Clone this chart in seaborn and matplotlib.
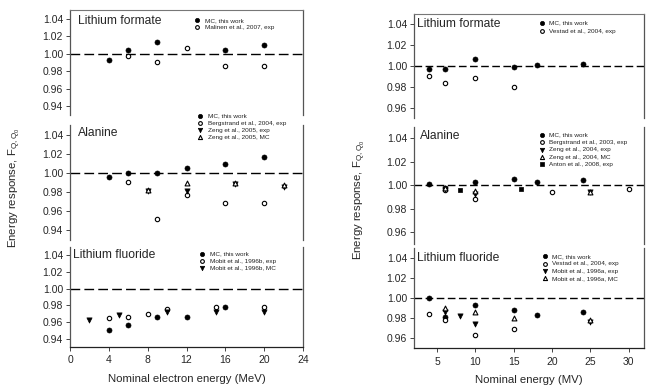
import matplotlib
matplotlib.use("Agg")
import matplotlib.pyplot as plt
import seaborn as sns
import numpy as np

# ---- left chart: electron beams (MeV) ----
e_lf_mc = [4, 6, 9, 16, 20]
lf_mc = [0.993, 1.004, 1.014, 1.004, 1.010]
e_lf_mal = [6, 9, 12, 16, 20]
lf_mal = [0.998, 0.9905, 1.0065, 0.9855, 0.986]

e_al_mc = [4, 6, 9, 12, 16, 20]
al_mc = [0.9956, 0.9995, 0.9995, 1.0048, 1.0092, 1.0168]
e_al_berg = [6, 9, 12, 16, 20]
al_berg = [0.991, 0.952, 0.9765, 0.9685, 0.9685]
e_al_zeng = [8, 12, 17, 22]
al_zeng_exp = [0.981, 0.981, 0.988, 0.985]
al_zeng_mc = [0.9825, 0.990, 0.989, 0.987]

e_lif_mc = [4, 6, 9, 12, 16]
lif_mc = [0.950, 0.956, 0.9655, 0.966, 0.9785]
e_lif_mobit_exp = [4, 6, 8, 10, 15, 20]
lif_mobit_exp = [0.9645, 0.9655, 0.9695, 0.9755, 0.978, 0.978]
e_lif_mobit_mc = [2, 5, 10, 15, 20]
lif_mobit_mc = [0.962, 0.9685, 0.9715, 0.9725, 0.972]

# ---- right chart: photon beams (MV) ----
p_lf_mc = [4, 6, 10, 15, 18, 24]
plf_mc = [0.9975, 0.997, 1.0065, 0.999, 1.0008, 1.002]
p_lf_ves = [4, 6, 10, 15]
plf_ves = [0.990, 0.9835, 0.988, 0.9795]

p_al_mc = [4, 6, 10, 15, 18, 24]
pal_mc = [1.001, 0.998, 1.003, 1.0055, 1.003, 1.0045]
p_al_berg = [6, 10, 20, 30]
pal_berg = [0.996, 0.988, 0.9945, 0.9965]
p_al_zeng = [6, 10, 25]
pal_zeng_exp = [0.997, 0.993, 0.9945]
pal_zeng_mc = [0.998, 0.9955, 0.9945]
p_al_anton = [8, 16]
pal_anton = [0.996, 0.997]

p_lif_mc = [4, 6, 10, 15, 18, 24]
plif_mc = [1.0003, 0.9815, 0.993, 0.988, 0.983, 0.986]
p_lif_ves = [4, 6, 10, 15]
plif_ves = [0.984, 0.978, 0.9635, 0.9695]
p_lif_mobit_exp = [6, 8, 10, 25]
plif_mobit_exp = [0.986, 0.9825, 0.9748, 0.9765]
p_lif_mobit_mc = [6, 10, 15, 25]
plif_mobit_mc = [0.990, 0.9865, 0.980, 0.978]

sns.set_style("ticks")
plt.rcParams['font.family'] = ['Liberation Sans', 'DejaVu Sans']
plt.rcParams['mathtext.default'] = 'regular'

W, H = 646, 385
fig = plt.figure(figsize=(W / 100, H / 100), dpi=100)


def add_ax(x0, x1, y0, y1):
    return fig.add_axes([x0 / W, 1 - y1 / H, (x1 - x0) / W, (y1 - y0) / H])


STY = {
    'mc': dict(marker='o', color='black', edgecolor='black', s=13, linewidth=0.5),
    'open': dict(marker='o', color='white', edgecolor='black', s=10, linewidth=0.8),
    'down': dict(marker='v', color='black', edgecolor='black', s=14, linewidth=0.5),
    'up': dict(marker='^', color='white', edgecolor='black', s=12, linewidth=0.8),
    'sq': dict(marker='s', color='black', edgecolor='black', s=12, linewidth=0.5),
}


def panel(ax, series, title, tpos, lpos, ylim, yticks, dash, top=False, bottom=False, lspace=0.25):
    for x, y, sty, lab in series:
        sns.scatterplot(x=x, y=y, ax=ax, label=lab, zorder=3, **STY[sty])
    ax.axhline(1.0, color='black', lw=1.0, ls=(0, dash), zorder=1)
    ax.set_ylim(*ylim)
    ax.set_yticks(yticks)
    ax.set_yticklabels([f"{v:.2f}" for v in yticks])
    ax.tick_params(axis='y', labelsize=7.5, length=3, width=0.6, pad=2)
    for s in ['left', 'right']:
        ax.spines[s].set_color('#555555')
        ax.spines[s].set_linewidth(0.9)
    ax.spines['top'].set_visible(top)
    ax.spines['top'].set_color('#777777')
    ax.spines['bottom'].set_visible(bottom)
    ax.spines['bottom'].set_color('#222222')
    ax.spines['bottom'].set_linewidth(0.9)
    if not bottom:
        ax.set_xticks([])
    ax.set_xlabel('')
    ax.text(tpos[0], tpos[1], title, transform=ax.transAxes, fontsize=8.7,
            ha='left', va='center')
    ax.legend(loc='upper left', bbox_to_anchor=lpos, frameon=False, fontsize=4.6,
              handletextpad=0.7, labelspacing=lspace, borderaxespad=0, borderpad=0,
              handlelength=1.0, markerscale=0.85, labelcolor='#222222')


# left stack
lx0, lx1 = 70, 303
a1 = add_ax(lx0, lx1, 10, 115)
a2 = add_ax(lx0, lx1, 125, 240)
a3 = add_ax(lx0, lx1, 247, 347)
lyt = [0.94, 0.96, 0.98, 1.00, 1.02, 1.04]
ldash = (7, 3)
panel(a1, [(e_lf_mc, lf_mc, 'mc', 'MC, this work'),
           (e_lf_mal, lf_mal, 'open', 'Malinen et al., 2007, exp')],
      'Lithium formate', (0.033, 0.898), (0.532, 0.93), (0.93, 1.05), lyt, ldash, top=True)
panel(a2, [(e_al_mc, al_mc, 'mc', 'MC, this work'),
           (e_al_berg, al_berg, 'open', 'Bergstrand et al., 2004, exp'),
           (e_al_zeng, al_zeng_exp, 'down', 'Zeng et al., 2005, exp'),
           (e_al_zeng, al_zeng_mc, 'up', 'Zeng et al., 2005, MC')],
      'Alanine', (0.033, 0.928), (0.545, 1.104), (0.93, 1.05), lyt, ldash)
panel(a3, [(e_lif_mc, lif_mc, 'mc', 'MC, this work'),
           (e_lif_mobit_exp, lif_mobit_exp, 'open', 'Mobit et al., 1996b, exp'),
           (e_lif_mobit_mc, lif_mobit_mc, 'down', 'Mobit et al., 1996b, MC')],
      'Lithium fluoride', (0.014, 0.92), (0.554, 0.96), (0.93, 1.05), lyt, ldash, bottom=True)
for a in (a1, a2, a3):
    a.set_xlim(0, 24)
a3.set_xticks(np.arange(0, 25, 4))
a3.tick_params(axis='x', labelsize=7.5, length=3, width=0.6, pad=3)
a3.set_xlabel('Nominal electron energy (MeV)', fontsize=8.2, labelpad=6)

# right stack
rx0, rx1 = 414, 644
b1 = add_ax(rx0, rx1, 14, 118)
b2 = add_ax(rx0, rx1, 126.6, 244)
b3 = add_ax(rx0, rx1, 248.3, 348.3)
ryt = [0.96, 0.98, 1.00, 1.02, 1.04]
rdash = (5.5, 2.5)
panel(b1, [(p_lf_mc, plf_mc, 'mc', 'MC, this work'),
           (p_lf_ves, plf_ves, 'open', 'Vestad et al., 2004, exp')],
      'Lithium formate', (0.014, 0.90), (0.541, 0.942), (0.95, 1.05), ryt, rdash, top=True, lspace=0.45)
panel(b2, [(p_al_mc, pal_mc, 'mc', 'MC, this work'),
           (p_al_berg, pal_berg, 'open', 'Bergstrand et al., 2003, exp'),
           (p_al_zeng, pal_zeng_exp, 'down', 'Zeng et al., 2004, exp'),
           (p_al_zeng, pal_zeng_mc, 'up', 'Zeng et al., 2004, MC'),
           (p_al_anton, pal_anton, 'sq', 'Anton et al., 2008, exp')],
      'Alanine', (0.026, 0.92), (0.541, 0.954), (0.95, 1.05), ryt, rdash, lspace=0.3)
panel(b3, [(p_lif_mc, plif_mc, 'mc', 'MC, this work'),
           (p_lif_ves, plif_ves, 'open', 'Vestad et al., 2004, exp'),
           (p_lif_mobit_exp, plif_mobit_exp, 'down', 'Mobit et al., 1996a, exp'),
           (p_lif_mobit_mc, plif_mobit_mc, 'up', 'Mobit et al., 1996a, MC')],
      'Lithium fluoride', (0.014, 0.906), (0.554, 0.948), (0.95, 1.05), ryt, rdash, bottom=True, lspace=0.3)
for b in (b1, b2, b3):
    b.set_xlim(2, 32)
b3.set_xticks([5, 10, 15, 20, 25, 30])
b3.tick_params(axis='x', labelsize=7.5, length=3, width=0.6, pad=3)
b3.set_xlabel('Nominal energy (MV)', fontsize=8.2, labelpad=6)

ylab = 'Energy response, F$_{Q,Q_0}$'
fig.text(15 / W, 1 - 188 / H, ylab, rotation=90, fontsize=8.2, ha='center', va='center')
fig.text(360 / W, 1 - 200 / H, ylab, rotation=90, fontsize=8.2, ha='center', va='center')

fig.savefig('out.png', dpi=100)
